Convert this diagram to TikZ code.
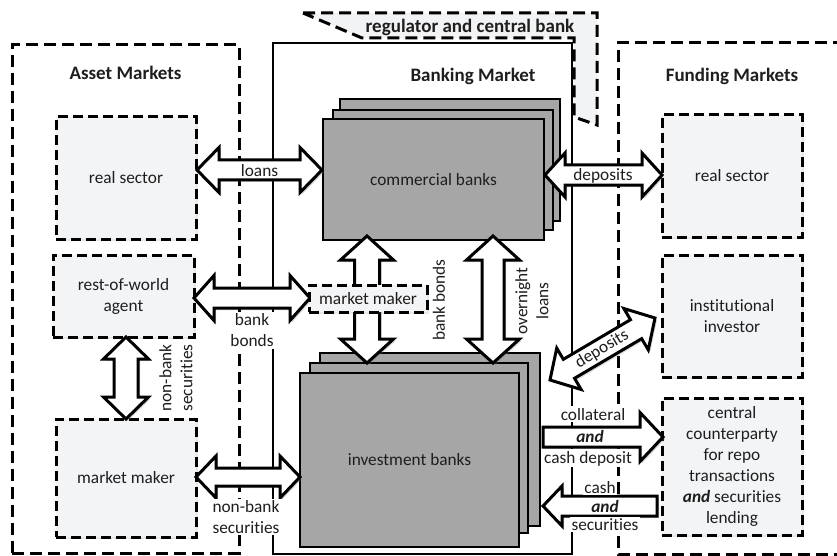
\documentclass[tikz,border=0pt]{standalone}
\usepackage{fontspec}
\setmainfont{Carlito}[Ligatures=NoCommon]
\usetikzlibrary{calc,shadows}
\definecolor{boxfill}{HTML}{F3F4F6}
\definecolor{regfill}{HTML}{F2F3F5}
\definecolor{bankfill}{HTML}{A6A6A6}
\definecolor{txt}{HTML}{1E1E1E}
\tikzset{
  outerbox/.style={draw=black, line width=3pt, dash pattern=on 12pt off 6pt},
  innerbox/.style={draw=black, fill=boxfill, line width=3pt, dash pattern=on 10pt off 5pt,
    inner sep=2pt, align=center,
    drop shadow={opacity=0.18, shadow xshift=2pt, shadow yshift=-2pt}},
  bankrect/.style={draw=black, fill=bankfill, line width=2.8pt, inner sep=0pt},
  bankframe/.style={draw=black, line width=2.6pt, inner sep=0pt},
  blockarrow/.style={draw=black, fill=white, line width=3pt, line join=miter,
    drop shadow={opacity=0.3, shadow xshift=2pt, shadow yshift=-2pt}},
  regshape/.style={draw=black, fill=regfill, line width=3pt, dash pattern=on 12pt off 6pt},
  titletxt/.style={font=\fontsize{19}{23}\selectfont\bfseries, inner sep=0pt},
  lbl/.style={inner sep=0pt},
  lblw/.style={fill=white, inner sep=1.5pt, align=center},
  andtxt/.style={font=\fontsize{17.3}{21}\selectfont\bfseries\itshape, inner sep=0pt}
}
% double block arrow: name, end A, end B, shaft half width, head half width, head length
\newcommand{\dblblock}[6]{%
  \coordinate (#1-a) at ($(#2)!#6!(#3)$);
  \coordinate (#1-b) at ($(#3)!#6!(#2)$);
  \draw[blockarrow] (#2) -- ($(#1-a)!#5!90:(#3)$) -- ($(#1-a)!#4!90:(#3)$)
    -- ($(#1-b)!#4!-90:(#2)$) -- ($(#1-b)!#5!-90:(#2)$) -- (#3)
    -- ($(#1-b)!#5!90:(#2)$) -- ($(#1-b)!#4!90:(#2)$)
    -- ($(#1-a)!#4!-90:(#3)$) -- ($(#1-a)!#5!-90:(#3)$) -- cycle;}
% single block arrow: name, tail A, tip B, shaft half width, head half width, head length
\newcommand{\sglblock}[6]{%
  \coordinate (#1-b) at ($(#3)!#6!(#2)$);
  \draw[blockarrow] ($(#2)!#4!90:(#3)$) -- ($(#1-b)!#4!-90:(#2)$)
    -- ($(#1-b)!#5!-90:(#2)$) -- (#3) -- ($(#1-b)!#5!90:(#2)$)
    -- ($(#1-b)!#4!90:(#2)$) -- ($(#2)!#4!-90:(#3)$) -- cycle;}
\begin{document}
\begin{tikzpicture}[x=1pt, y=-1pt, font=\fontsize{17.3}{21}\selectfont, text=txt]
\useasboundingbox[fill=white] (0,0) rectangle (837,556);

% regulator and central bank (behind)
\draw[regshape] (303,13) -- (597,13) -- (597,125) -- (574,117) -- (574,38) -- (362,38) -- cycle;
\node[titletxt, anchor=base] (tR) at (470,33) {regulator and central bank};

% market frames
\node[outerbox, minimum width=227pt, minimum height=508pt, inner sep=0pt] (asset) at (125.5,299) {};
\coordinate (fTR) at (845,43);
\coordinate (fBR) at (845,554);
\draw[outerbox] (fTR) -- (618,43) -- (618,554) -- (fBR);
\node[bankframe, minimum width=299pt, minimum height=511pt] (banking) at (422.5,298.5) {};

\node[titletxt, anchor=base] (tA) at (125.5,80) {Asset Markets};
\node[titletxt, anchor=base] (tB) at (473,82) {Banking Market};
\node[titletxt, anchor=base] (tF) at (732,82) {Funding Markets};

% asset market boxes
\node[innerbox, minimum width=140pt, minimum height=122pt] (rsL) at (126,178) {real sector};
\node[innerbox, minimum width=141pt, minimum height=82pt] (rowL) at (123.5,296) {rest-of-world\\agent};
\node[innerbox, minimum width=140pt, minimum height=118pt] (mmL) at (126,478) {market maker};

% funding market boxes
\node[innerbox, minimum width=140pt, minimum height=122pt] (rsR) at (732,176) {real sector};
\node[innerbox, minimum width=140pt, minimum height=122pt] (iiR) at (732,316) {institutional\\investor};
\node[innerbox, minimum width=140pt, minimum height=137pt] (ccR) at (732,466.5)
  {central\\counterparty\\for repo\\transactions\\\textbf{\textit{and}} securities\\lending};

% commercial banks stack
\node[bankrect, minimum width=220pt, minimum height=122pt] (cb3) at (450,160) {};
\node[bankrect, minimum width=220pt, minimum height=120pt] (cb2) at (443,170) {};
\node[bankrect, minimum width=221pt, minimum height=121pt] (cb) at (433.5,179.5) {commercial banks};

% investment banks stack
\node[bankrect, minimum width=220pt, minimum height=173pt] (ib3) at (430,439.5) {};
\node[bankrect, minimum width=218pt, minimum height=170pt] (ib2) at (419,448) {};
\node[bankrect, minimum width=219pt, minimum height=174pt] (ib) at (409.5,460) {investment banks};

% arrow end points
\coordinate (loA) at (197,170);   \coordinate (loB) at (322,170);
\coordinate (dpA) at (545,175);   \coordinate (dpB) at (662,175);
\coordinate (bbA) at (194,298);   \coordinate (bbB) at (310,298);
\coordinate (nbA) at (196,477);   \coordinate (nbB) at (300,477);
\coordinate (mvA) at (367,236);   \coordinate (mvB) at (367,363);
\coordinate (ovA) at (493,236);   \coordinate (ovB) at (493,363);
\coordinate (nvA) at (126,337);   \coordinate (nvB) at (126,419);
\coordinate (ddA) at (550,380);   \coordinate (ddB) at (655,318);
\coordinate (coA) at (543,437);   \coordinate (coB) at (663,437);
\coordinate (caA) at (657,506);   \coordinate (caB) at (543,506);

\dblblock{lo}{loA}{loB}{10pt}{22.5pt}{22pt}
\dblblock{dp}{dpA}{dpB}{10pt}{22pt}{20pt}
\dblblock{bb}{bbA}{bbB}{10pt}{22.5pt}{20pt}
\dblblock{nb}{nbA}{nbB}{9pt}{21pt}{20pt}
\dblblock{mv}{mvA}{mvB}{12.5pt}{26.5pt}{24pt}
\dblblock{ov}{ovA}{ovB}{11pt}{26.5pt}{24pt}
\dblblock{nv}{nvA}{nvB}{12pt}{22.5pt}{22pt}
\dblblock{dd}{ddA}{ddB}{11pt}{24pt}{22pt}
\sglblock{co}{coA}{coB}{10pt}{24.5pt}{23pt}
\sglblock{ca}{caA}{caB}{10pt}{20pt}{19pt}

% middle market maker
\node[innerbox, minimum width=118pt, minimum height=27pt, inner sep=0pt] (mmM) at (368,298.5) {market maker};

% arrow labels
\node[lbl, anchor=base] (lLoans) at (259.5,177) {loans};
\node[lbl, anchor=base] (lDep) at (603,180) {deposits};
\node[lblw] (lBB) at (252,330.5) {bank\\bonds};
\node[lblw] (lNB) at (246,517) {non-bank\\securities};
\node[lbl, rotate=90, align=center] (lNBv) at (176,378) {non-bank\\securities};
\node[lbl, rotate=90] (lBBv) at (439,300) {bank bonds};
\node[lbl, rotate=90, align=center] (lOv) at (532,301) {overnight\\loans};
\node[lbl, rotate=31] (lDd) at (602,349) {deposits};
\node[lblw, anchor=base] (lCol) at (593,420) {collateral};
\node[andtxt, anchor=base] (lAnd1) at (590,442) {and};
\node[lblw, anchor=base] (lCd) at (588,463) {cash deposit};
\node[lblw, anchor=base] (lCash) at (600,493) {cash};
\node[andtxt, anchor=base] (lAnd2) at (605,512) {and};
\node[lblw, anchor=base] (lSec) at (605,530) {securities};
\end{tikzpicture}
\end{document}
